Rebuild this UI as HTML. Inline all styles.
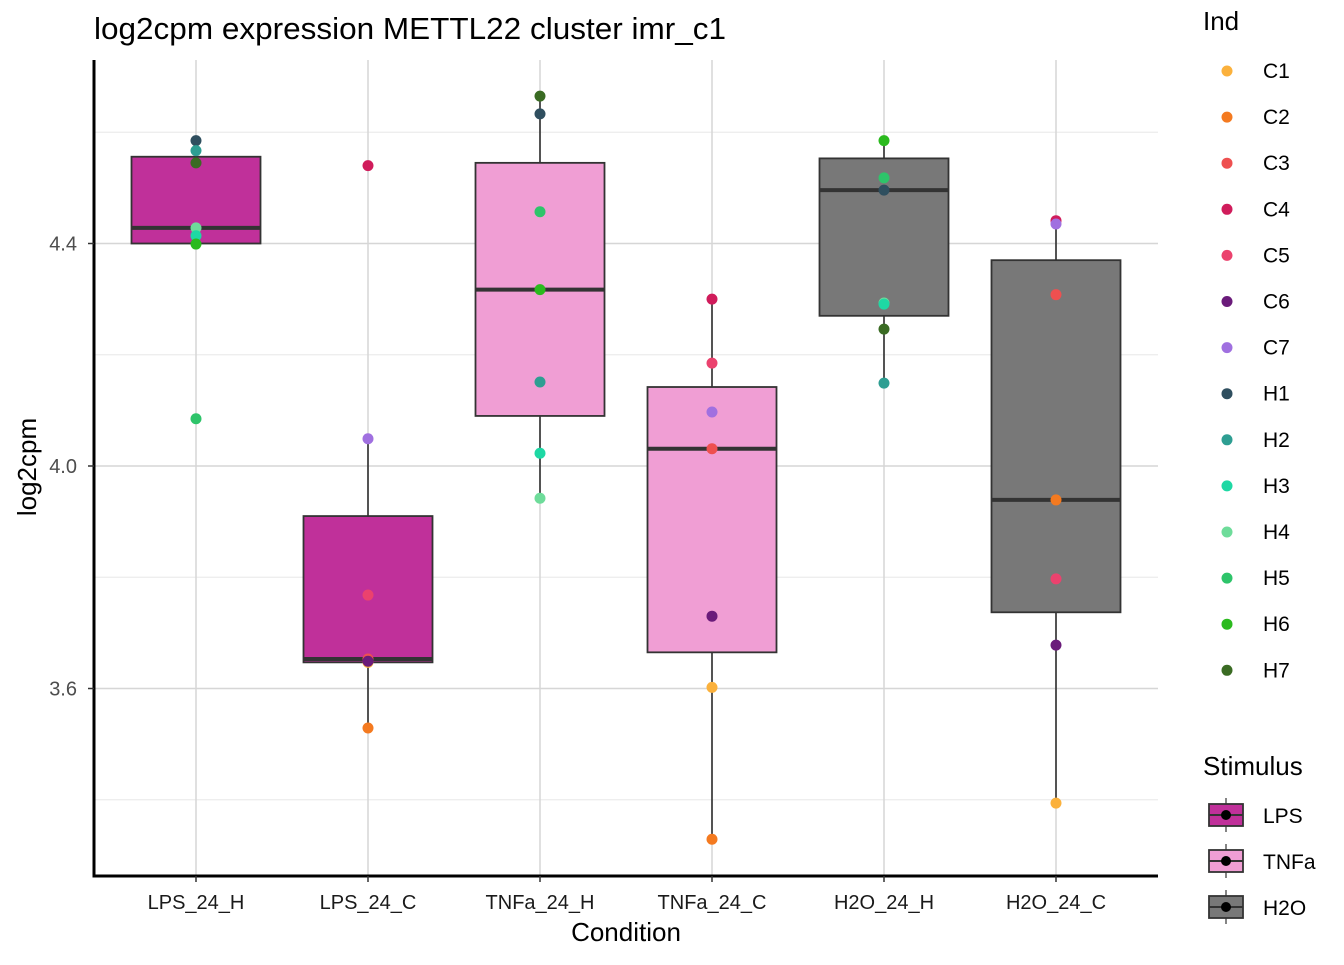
<!DOCTYPE html>
<html><head><meta charset="utf-8"><style>
body{margin:0;background:#fff;font-family:"Liberation Sans",sans-serif}
svg text{font-family:"Liberation Sans",sans-serif}
</style></head><body>
<svg id="c" width="1344" height="960"></svg>
<script>
const categories=["LPS_24_H","LPS_24_C","TNFa_24_H","TNFa_24_C","H2O_24_H","H2O_24_C"];
const stimulus=["LPS","LPS","TNFa","TNFa","H2O","H2O"];
const boxQ1=[4.400,3.647,4.090,3.665,4.270,3.737];
const boxMed=[4.428,3.653,4.317,4.031,4.496,3.939];
const boxQ3=[4.556,3.910,4.545,4.142,4.553,4.370];
const whiskLo=[4.399,3.529,3.942,3.329,4.149,3.394];
const whiskHi=[4.585,4.049,4.665,4.300,4.585,4.441];
const pointCat=[0,0,0,0,0,0,0, 1,1,1,1,1,1,1, 2,2,2,2,2,2,2, 3,3,3,3,3,3,3, 4,4,4,4,4,4,4, 5,5,5,5,5,5,5];
const pointInd=["H1","H2","H7","H4","H3","H6","H5", "C4","C7","C5","C3","C1","C6","C2", "H7","H1","H5","H6","H2","H3","H4", "C4","C5","C7","C3","C6","C1","C2", "H6","H5","H1","H4","H3","H7","H2", "C4","C7","C3","C2","C5","C6","C1"];
const pointVal=[4.585,4.567,4.545,4.428,4.414,4.399,4.085, 4.540,4.049,3.768,3.653,3.647,3.649,3.529, 4.665,4.633,4.457,4.317,4.151,4.023,3.942, 4.300,4.185,4.097,4.031,3.730,3.602,3.329, 4.585,4.518,4.496,4.293,4.291,4.246,4.149, 4.441,4.435,4.308,3.939,3.797,3.678,3.394];
const yTicks=[3.6,4.0,4.4];
const yMinor=[3.4,3.8,4.2,4.6];
const indNames=["C1","C2","C3","C4","C5","C6","C7","H1","H2","H3","H4","H5","H6","H7"];
const indColors=["#FBB13C","#F47A20","#EE5050","#D01C5B","#EB426E","#6A1B7A","#A070E0","#2F4F5F","#2E9E92","#1ED8A4","#6EDC9A","#2EC46A","#2BBA1E","#3A6B23"];
const stimNames=["LPS","TNFa","H2O"];
const stimFill={"LPS":"#C0309A","TNFa":"#F09ED4","H2O":"#787878"};

const NS="http://www.w3.org/2000/svg",svg=document.getElementById('c');
function el(t,a,p){const e=document.createElementNS(NS,t);for(const k in a)e.setAttribute(k,a[k]);(p||svg).appendChild(e);return e;}
const y=v=>466-(v-4.0)*556.25;
const x=i=>196+i*172;
const PL=94,PR=1158,PT=60,PB=876;

let g;
yMinor.forEach(v=>{g=el('line',{x1:PL,x2:PR,y1:y(v),y2:y(v),stroke:'#ebebeb','stroke-width':1.2});

});
yTicks.forEach(v=>{g=el('line',{x1:PL,x2:PR,y1:y(v),y2:y(v),stroke:'#d6d6d6','stroke-width':1.5});

});
categories.forEach((c,i)=>{g=el('line',{x1:x(i),x2:x(i),y1:PT,y2:PB,stroke:'#d6d6d6','stroke-width':1.5});

});

categories.forEach((c,i)=>{
 const gg=el('g',{});
 
 
 el('line',{x1:x(i),x2:x(i),y1:y(whiskHi[i]),y2:y(boxQ3[i]),stroke:'#222','stroke-width':1.5},gg);
 el('line',{x1:x(i),x2:x(i),y1:y(boxQ1[i]),y2:y(whiskLo[i]),stroke:'#222','stroke-width':1.5},gg);
 el('rect',{x:x(i)-64.5,y:y(boxQ3[i]),width:129,height:y(boxQ1[i])-y(boxQ3[i]),fill:stimFill[stimulus[i]],stroke:'#333','stroke-width':1.8},gg);
 el('line',{x1:x(i)-64.5,x2:x(i)+64.5,y1:y(boxMed[i]),y2:y(boxMed[i]),stroke:'#333','stroke-width':4},gg);
});
pointVal.forEach((v,k)=>{
 const p=el('circle',{cx:x(pointCat[k]),cy:y(v),r:5.5,fill:indColors[indNames.indexOf(pointInd[k])]});
 
 
});
g=el('line',{x1:PL,x2:PL,y1:PT,y2:PB+1.5,stroke:'#000','stroke-width':3});

g=el('line',{x1:PL-1.5,x2:PR,y1:PB,y2:PB,stroke:'#000','stroke-width':3});

yTicks.forEach(v=>{
 el('line',{x1:PL-6,x2:PL,y1:y(v),y2:y(v),stroke:'#333','stroke-width':1.5});
 const t=el('text',{x:PL-17,y:y(v)+7,'text-anchor':'end','font-size':20,fill:'#4d4d4d'});t.textContent=v.toFixed(1);
 
});
categories.forEach((c,i)=>{
 el('line',{x1:x(i),x2:x(i),y1:PB,y2:PB+6,stroke:'#333','stroke-width':1.5});
 const t=el('text',{x:x(i),y:909,'text-anchor':'middle','font-size':20,fill:'#1a1a1a'});t.textContent=c;
 
});
let t=el('text',{x:626,y:941,'text-anchor':'middle','font-size':26,fill:'#000'});t.textContent='Condition';

t=el('text',{x:36,y:467,'text-anchor':'middle','font-size':26,fill:'#000',transform:'rotate(-90 36 467)'});t.textContent='log2cpm';

t=el('text',{x:94,y:39,'font-size':31,fill:'#000',textLength:632,lengthAdjust:'spacingAndGlyphs'});t.textContent='log2cpm expression METTL22 cluster imr_c1';


t=el('text',{x:1203,y:30,'font-size':26,fill:'#000'});t.textContent='Ind';

indNames.forEach((n,i)=>{
 const gg=el('g',{});
 
 
 el('circle',{cx:1227,cy:71+46.1*i,r:5.5,fill:indColors[i]},gg);
 const tt=el('text',{x:1263,y:78+46.1*i,'font-size':21,fill:'#000'},gg);tt.textContent=n;
});
t=el('text',{x:1203,y:775,'font-size':26,fill:'#000'});t.textContent='Stimulus';

stimNames.forEach((n,i)=>{
 const cy=815+46*i;
 const gg=el('g',{});
 
 
 el('line',{x1:1226,x2:1226,y1:cy-17,y2:cy+17,stroke:'#333','stroke-width':1.2},gg);
 el('rect',{x:1209,y:cy-11,width:34,height:22,fill:stimFill[n],stroke:'#333','stroke-width':1.8},gg);
 el('line',{x1:1209,x2:1243,y1:cy,y2:cy,stroke:'#333','stroke-width':2},gg);
 el('circle',{cx:1226,cy:cy,r:5,fill:'#000'},gg);
 const tt=el('text',{x:1263,y:cy+8,'font-size':21,fill:'#000'},gg);tt.textContent=n;
});
</script></body></html>
